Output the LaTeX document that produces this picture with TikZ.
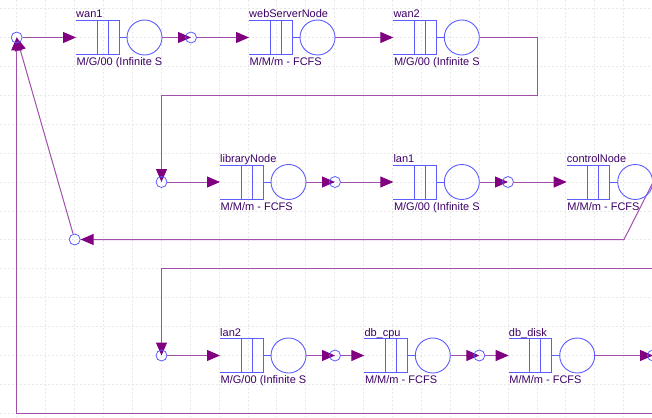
\documentclass[tikz,border=0pt]{standalone}
\usepackage{fontspec}
\setmainfont{Liberation Sans}
\usetikzlibrary{arrows.meta,positioning,backgrounds}
\definecolor{qblue}{RGB}{92,92,255}
\definecolor{conn}{RGB}{160,80,170}
\definecolor{tipc}{RGB}{128,0,128}
\definecolor{txtc}{RGB}{60,0,100}

\tikzset{
  gridln/.style={gray!18,dash pattern=on 2pt off 2pt,line width=0.8pt},
  qline/.style={qblue,line width=0.9pt},
  server/.style={circle,draw=qblue,line width=0.9pt,minimum size=35pt,inner sep=0pt},
  jn/.style={circle,draw=qblue,line width=0.8pt,minimum size=11pt,inner sep=0pt},
  lbl/.style={txtc,font=\fontsize{11}{13}\selectfont,inner sep=0pt},
  flow/.style={conn,line width=1pt,-{Triangle[length=13pt,width=11pt,color=tipc]}},
}

% queue station: name, x, y, top label, bottom label
\newcommand{\station}[5]{%
  \begin{scope}[shift={(#2,#3)}]
    \coordinate (#1-in) at (0,0);
    \draw[qline] (0,-17) -- (43,-17) -- (43,17) -- (0,17);
    \draw[qline] (21,-17) -- (21,17) (32,-17) -- (32,17) (43,0) -- (51,0);
    \node[server] (#1) at (68.5,0) {};
    \node[lbl,anchor=base west] (#1-name) at (0,-19.5) {#4};
    \node[lbl,anchor=base west] (#1-kind) at (0.5,28) {#5};
  \end{scope}}

\begin{document}
\begin{tikzpicture}[x=1pt,y=-1pt]
\useasboundingbox (0,0) rectangle (652,417);
\clip (0,0) rectangle (652,417);

% stations
\station{wan1}{76}{37.5}{wan1}{M/G/00 (Infinite S}
\station{web}{249}{37.5}{webServerNode}{M/M/m - FCFS}
\station{wan2}{393.3}{37.5}{wan2}{M/G/00 (Infinite S}
\station{lib}{220}{182}{libraryNode}{M/M/m - FCFS}
\station{lan1}{393.3}{182}{lan1}{M/G/00 (Infinite S}
\station{ctrl}{566.7}{182}{controlNode}{M/M/m - FCFS}
\station{lan2}{220}{355.5}{lan2}{M/G/00 (Infinite S}
\station{cpu}{364.3}{355.5}{db\_cpu}{M/M/m - FCFS}
\station{disk}{508.7}{355.5}{db\_disk}{M/M/m - FCFS}

% small junction circles
\node[jn] (src) at (16.7,37.5) {};
\node[jn] (j1) at (191,37.5) {};
\node[jn] (j2) at (161.5,182) {};
\node[jn] (j3) at (335,182) {};
\node[jn] (j4) at (508,182) {};
\node[jn] (j5) at (74.7,239.5) {};
\node[jn] (j6) at (161.5,355.5) {};
\node[jn] (j7) at (335,355.5) {};
\node[jn] (j8) at (479.3,355.5) {};
\node[jn] (j9) at (653,355.5) {};

\coordinate (wan2-turn) at (537,95.3);
\coordinate (ctrl-turn) at (624,239.5);
\coordinate (rtop) at (652,268.7);
\coordinate (rbot) at (652,413.5);

\begin{scope}[on background layer]
% grid
\foreach \gx in {0,...,22}{
  \draw[gridln] (16.7+28.9*\gx,0) -- (16.7+28.9*\gx,417);}
\foreach \gy in {0,...,14}{
  \draw[gridln] (0,8.6+28.9*\gy) -- (652,8.6+28.9*\gy);}

% row 1
\draw[flow] (src) -- (wan1-in);
\draw[flow] (wan1) -- (j1.center);
\draw[flow] (j1) -- (web-in);
\draw[flow] (web) -- (wan2-in);
\draw[flow] (wan2.east) -| (wan2-turn) -| (j2.center);

% row 2
\draw[flow] (j2) -- (lib-in);
\draw[flow] (lib) -- (j3.center);
\draw[flow] (j3) -- (lan1-in);
\draw[flow] (lan1) -- (j4.center);
\draw[flow] (j4) -- (ctrl-in);
\draw[flow] (ctrl.east) -- (ctrl-turn) -- (j5.east);
\draw[flow] (j5) -- (src.center);

% row 3
\draw[flow] (rtop) -| (j6.center);
\draw[flow] (j6) -- (lan2-in);
\draw[flow] (lan2) -- (j7.center);
\draw[flow] (j7) -- (cpu-in);
\draw[flow] (cpu) -- (j8.center);
\draw[flow] (j8) -- (disk-in);
\draw[flow] (disk) -- (j9.center);
\draw[flow] (rbot) -| (src.center);
\end{scope}

\end{tikzpicture}
\end{document}
